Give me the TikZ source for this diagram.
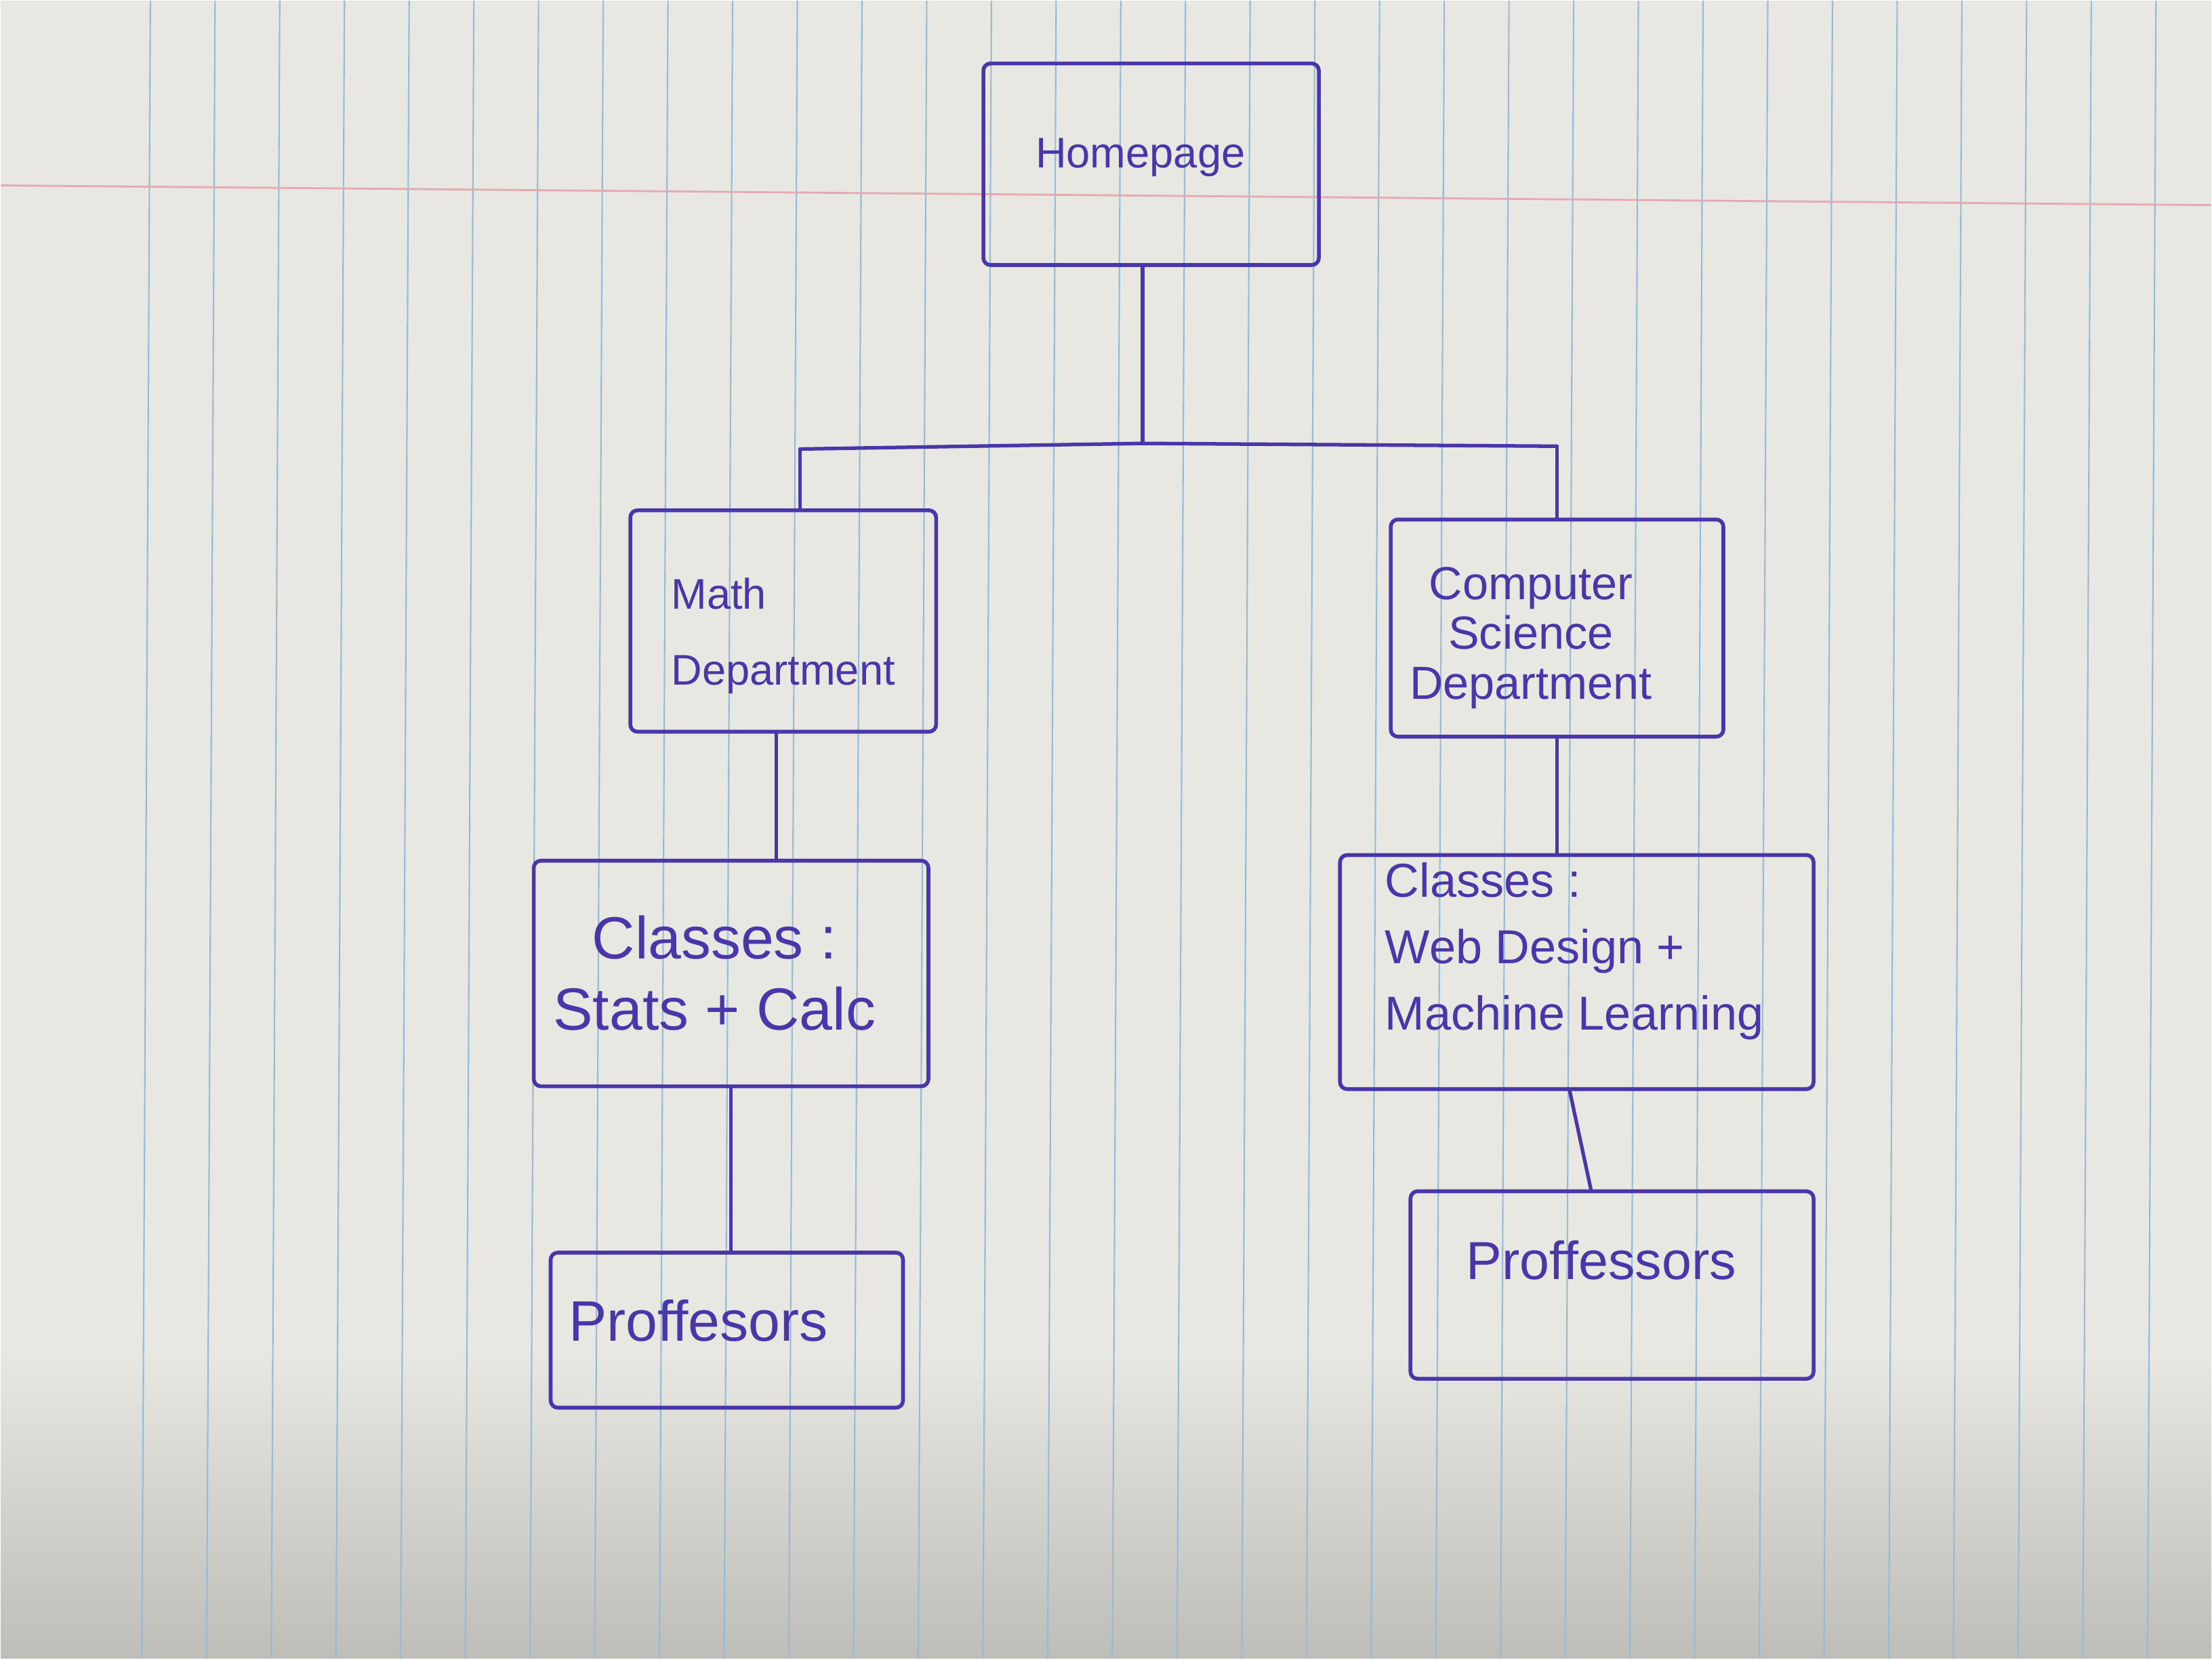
\documentclass[tikz,border=0pt]{standalone}
\usepackage{fontspec}
\setmainfont{Liberation Sans}
\usetikzlibrary{calc}
\def\PX{0.020816cm}
\definecolor{ink}{HTML}{4A36A8}
\definecolor{paper}{HTML}{E9E7E1}
\definecolor{rule}{HTML}{93BCDA}
\definecolor{margin}{HTML}{E6A9B3}
\newcommand\boxtext[4]{\raisebox{#1}[\height][\depth]{\begin{tabular}{@{}#2@{}}#4\end{tabular}}\hspace*{#3}}
\tikzset{
  box/.style={draw=ink, line width=1.6pt, rectangle, text=ink,
    inner sep=0pt, rounded corners=3pt},
  wire/.style={draw=ink, line width=1.5pt, line cap=round},
}
\begin{document}
\begin{tikzpicture}[x=\PX, y=-\PX]
% paper
\fill[paper] (0,0) rectangle (1568,1176);
\shade[top color=paper, bottom color=paper!70!black, opacity=0.6] (0,960) rectangle (1568,1176);
\foreach \k in {0,...,31} {
  \draw[rule, line width=0.6pt] ({106+45.9*\k},0) -- ({100+45.9*\k},1176);
}
\draw[margin, line width=0.8pt] (0,131) -- (1568,145);
\useasboundingbox (0,0) rectangle (1568,1176);

% nodes
\node[box, minimum width=238*\PX, minimum height=143*\PX, font=\fontsize{18}{22}\selectfont]
  (home) at (816,116) {\boxtext{3pt}{c}{9pt}{Homepage}};
\node[box, minimum width=217*\PX, minimum height=157*\PX, font=\fontsize{18}{32}\selectfont]
  (math) at (555,440) {\boxtext{-4.5pt}{l}{0pt}{Math\\Department}};
\node[box, minimum width=236*\PX, minimum height=154*\PX, font=\fontsize{19.5}{21}\selectfont]
  (cs) at (1104,445) {\boxtext{-4.7pt}{c}{22pt}{Computer\\Science\\Department}};
\node[box, minimum width=280*\PX, minimum height=160*\PX, font=\fontsize{25}{30}\selectfont]
  (mclass) at (518,690) {\boxtext{-2.7pt}{c}{14pt}{Classes :\\Stats + Calc}};
\node[box, minimum width=336*\PX, minimum height=166*\PX, font=\fontsize{20}{28}\selectfont]
  (csclass) at (1118,689) {\boxtext{9.2pt}{l}{2pt}{Classes :\\Web Design +\\Machine Learning}};
\node[box, minimum width=250*\PX, minimum height=110*\PX, font=\fontsize{24}{26}\selectfont]
  (mprof) at (515,943) {\boxtext{0.6pt}{c}{24pt}{Proffesors}};
\node[box, minimum width=286*\PX, minimum height=133*\PX, font=\fontsize{22.5}{26}\selectfont]
  (csprof) at (1143,911) {\boxtext{7.7pt}{c}{9pt}{Proffessors}};

% junction coordinates
\coordinate (jm) at (810,314);
\coordinate (jl) at (567,318);
\coordinate (jr) at (1104,316);
\coordinate (ml) at (550,0);

% connectors
\draw[wire] (home.south -| jm) -- (jm);
\draw[wire] (jl) -- (jm) -- (jr);
\draw[wire] (jl) -- (jl |- math.north);
\draw[wire] (jr) -- (jr |- cs.north);
\draw[wire] (math.south -| ml) -- (mclass.north -| ml);
\draw[wire] (cs.south) -- (cs.south |- csclass.north);
\draw[wire] (mclass.south) -- (mclass.south |- mprof.north);
\draw[wire] ($(csclass.south)+(-5,0)$) -- ($(csprof.north)+(-15,0)$);
\end{tikzpicture}
\end{document}
